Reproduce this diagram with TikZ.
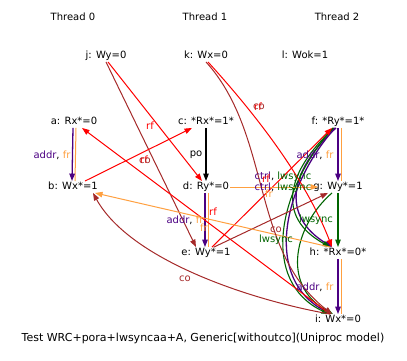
\documentclass[tikz,border=0pt]{standalone}
\usepackage{fontspec}
\setmainfont{DejaVu Sans}
\usetikzlibrary{arrows.meta}
\definecolor{cred}{HTML}{FF0000}
\definecolor{cbrown}{HTML}{A52A2A}
\definecolor{corange}{HTML}{FFA040}
\definecolor{cpurple}{HTML}{4B0082}
\definecolor{cgreen}{HTML}{006400}
\begin{document}
\begin{tikzpicture}[x=1pt,y=-1pt,font=\fontsize{10}{12}\selectfont,
  ev/.style={inner sep=1pt,text height=7.5pt,text depth=2pt},
  lbl/.style={inner sep=0pt},
  arr/.style={-{Triangle[length=7.5pt,width=5.5pt]}},
  rfe/.style={draw=cred,line width=1pt,arr},
  coe/.style={draw=cbrown,line width=1pt,arr},
  fre/.style={draw=corange,line width=1pt,arr},
  frl/.style={draw=corange,line width=1pt},
  addre/.style={draw=cpurple,line width=1.3pt,arr},
  lwe/.style={draw=cgreen,line width=1.1pt,arr},
  poe/.style={draw=black,line width=1.1pt,arr}]
\useasboundingbox (0,0) rectangle (407,361);
% threads
\node (t0) at (73,17) {Thread 0};
\node (t1) at (205,17) {Thread 1};
\node (t2) at (337,17) {Thread 2};
% events
\node[ev] (j) at (106,56) {j: Wy=0};
\node[ev] (k) at (206,56) {k: Wx=0};
\node[ev] (l) at (305,56) {l: Wok=1};
\node[ev] (a) at (74,122) {a: Rx*=0};
\node[ev] (b) at (73,187) {b: Wx*=1};
\node[ev] (c) at (206,122) {c: *Rx*=1*};
\node[ev] (d) at (206,187) {d: Ry*=0};
\node[ev] (e) at (206,253) {e: Wy*=1};
\node[ev] (f) at (338,122) {f: *Ry*=1*};
\node[ev] (g) at (338,187) {g: Wy*=1};
\node[ev] (h) at (338,253) {h: *Rx*=0*};
\node[ev] (i) at (338,320) {i: Wx*=0};
\node[font=\fontsize{11}{13}\selectfont] (cap) at (203,338) {Test WRC+pora+lwsyncaa+A, Generic[withoutco](Uniproc model)};
% program order / dependency edges
\draw[frl] ([xshift=2pt]a.south) -- ([xshift=2pt]b.north);
\draw[addre] ([xshift=-1pt]a.south) -- ([xshift=-1pt]b.north);
\draw[poe] (c.south) -- (d.north);
\draw[frl] ([xshift=2pt]d.south) -- ([xshift=2pt]e.north);
\draw[addre] ([xshift=-1pt]d.south) -- ([xshift=-1pt]e.north);
\draw[frl] ([xshift=3pt]f.south) -- ([xshift=3pt]g.north);
\draw[addre] (f.south) -- (g.north);
\draw[lwe] (g.south) -- (h.north);
\draw[frl] ([xshift=3pt]h.south) -- ([xshift=3pt]i.north);
\draw[addre] (h.south) -- (i.north);
% ctrl + lwsync curves
\draw[addre] ([xshift=-2pt]f.south) .. controls (290,170) and (280,215) .. ([xshift=-6pt]h.north);
\draw[lwe] ([xshift=-4pt]f.south) .. controls (286,172) and (276,217) .. ([xshift=-8pt]h.north);
\draw[addre] ([xshift=-3pt]f.south) .. controls (280,190) and (265,280) .. ([xshift=-7pt]i.north);
\draw[lwe] ([xshift=-5pt]f.south) .. controls (276,192) and (261,282) .. ([xshift=-9pt]i.north);
\draw[lwe] ([xshift=-6pt]g.south) .. controls (295,225) and (280,285) .. ([xshift=-5pt]i.north);
% communication edges
\draw[rfe] ([xshift=2pt]j.south) -- ([xshift=-4pt]d.north);
\draw[coe] (j.south) -- ([xshift=-10pt]e.north);
\draw[rfe] ([xshift=12pt]b.north) -- ([xshift=-14pt]c.south);
\draw[rfe] ([xshift=-8pt]i.north) -- ([xshift=8pt]a.south);
\draw[rfe] ([xshift=6pt]e.north) -- ([xshift=-6pt]f.south);
\draw[coe] ([xshift=8pt]e.north) -- ([xshift=-10pt]g.south);
\draw[fre] ([xshift=-8pt]h.north) -- ([xshift=22pt]b.south);
\draw[fre] (d.east) -- ([xshift=6pt]g.west);
\draw[coe] ([xshift=-8pt]i.north) .. controls (250,300) and (130,260) .. ([xshift=20pt]b.south);
\draw[rfe] ([xshift=2pt]k.south) .. controls (270,130) and (310,190) .. ([xshift=-6pt]h.north);
\draw[coe] (k.south) .. controls (272,135) and (250,250) .. ([xshift=-6pt]i.north);
% labels
\node[lbl] (lab) at (52,155) {\textcolor{cpurple}{addr}, \textcolor{corange}{fr}};
\node[lbl] (lcd) at (196,155) {po};
\node[lbl] (lde) at (185,220) {\textcolor{cpurple}{addr}, \textcolor{corange}{fr}};
\node[lbl,text=cred] (lia) at (213,212) {rf};
\node[lbl,text=corange] (lhb) at (204,228) {fr};
\node[lbl] (lfg) at (315,155) {\textcolor{cpurple}{addr}, \textcolor{corange}{fr}};
\node[lbl] (lhi) at (315,287) {\textcolor{cpurple}{addr}, \textcolor{corange}{fr}};
\node[lbl] (lfh) at (283,177) {\textcolor{cpurple}{ctrl}, \textcolor{cgreen}{lwsync}};
\node[lbl] (lfi) at (283,188) {\textcolor{cpurple}{ctrl}, \textcolor{cgreen}{lwsync}};
\node[lbl,text=cred] (lef) at (266,179) {rf};
\node[lbl,text=corange] (ldg) at (269,194) {fr};
\node[lbl,text=cgreen] (lgh) at (316,220) {lwsync};
\node[lbl,text=cbrown] (leg) at (276,230) {co};
\node[lbl,text=cgreen] (lgi) at (276,240) {lwsync};
\node[lbl,text=cred] (lkh) at (258,107) {rf};
\node[lbl,text=cbrown] (lki) at (259,107) {co};
\node[lbl,text=cred] (ljd) at (150,126) {rf};
\node[lbl,text=cred] (lbc) at (144,160) {rf};
\node[lbl,text=cbrown] (lje) at (145,161) {co};
\node[lbl,text=cbrown] (lib) at (185,279) {co};
\end{tikzpicture}
\end{document}
